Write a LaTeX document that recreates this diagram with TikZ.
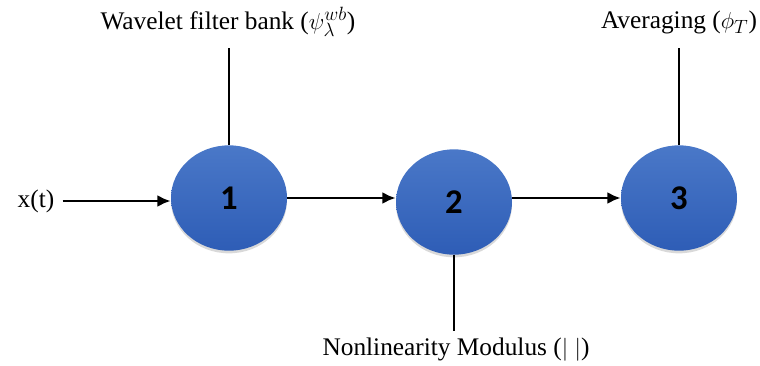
\documentclass[tikz,border=0pt]{standalone}
\usepackage{fontspec}
\setmainfont{Liberation Serif}
\newfontfamily\numfont{Carlito}
\usetikzlibrary{arrows.meta,shadows,shapes.geometric}
\definecolor{ballTop}{HTML}{4A78C8}
\definecolor{ballBot}{HTML}{2E5DB6}
\tikzset{
  ball/.style={ellipse, minimum width=87pt, minimum height=79pt, inner sep=0pt,
    top color=ballTop, bottom color=ballBot, draw=none,
    drop shadow={opacity=0.3, shadow xshift=0pt, shadow yshift=-2pt},
    font=\numfont\bfseries\fontsize{26}{30}\selectfont},
  lbl/.style={font=\fontsize{19}{22}\selectfont, inner sep=0pt},
  conn/.style={line width=2.1pt},
  arr/.style={line width=2.1pt, -{Latex[length=10pt,width=9pt]}}
}
\begin{document}
\begin{tikzpicture}[x=0.75pt,y=-0.75pt]
\useasboundingbox (0,0) rectangle (760,365);
\node[ball] (n1) at (229,198) {1};
\node[ball] (n2) at (454,202) {2};
\node[ball] (n3) at (679,198) {3};
\node[lbl] (x) at (36,201) {x(t)};
\node[lbl] (wb) at (228,22) {Wavelet filter bank ($\psi_\lambda^{wb}$)};
\node[lbl] (av) at (679,22) {Averaging ($\phi_T$)};
\node[lbl] (nl) at (456,350) {Nonlinearity Modulus ($|\;|$)};
\coordinate (wbt) at (229,48);
\coordinate (avt) at (679,48);
\coordinate (nlb) at (454,331);
\draw[arr] (x.east) ++(8,0) coordinate (xs) -- (n1.west |- xs);
\draw[arr] (n1.east) -- (n2.west |- n1.east);
\draw[arr] (n2.east |- n3.west) -- (n3.west);
\draw[conn] (wbt) -- (n1.north);
\draw[conn] (avt) -- (n3.north);
\draw[conn] (n2.south) -- (nlb);
\end{tikzpicture}
\end{document}
